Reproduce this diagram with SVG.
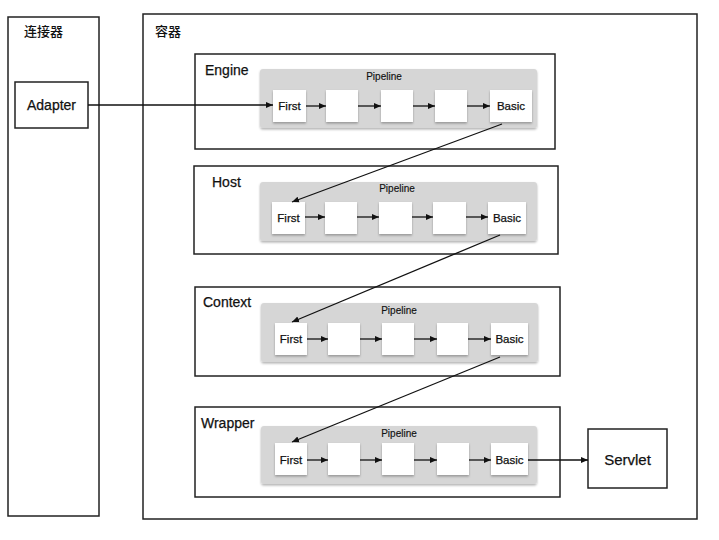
<svg xmlns="http://www.w3.org/2000/svg" width="719" height="540" viewBox="0 0 719 540">
<style>
.frame{fill:#fff;stroke:#222;stroke-width:1.5}
.pipe{fill:#d6d6d6;stroke:none}
.valve{fill:#fff;stroke:none}
.lbl{font-family:"Liberation Sans",Arial,sans-serif;fill:#111;stroke:#111;stroke-width:0.25}
.big{font-size:14px}
.sm{font-size:11.5px}
.tiny{font-size:10px;stroke-width:0.15}
.cjk{font-family:"Noto Sans CJK SC","Liberation Sans",sans-serif;font-size:13px;font-weight:500;fill:#111}
.conn{stroke:#111;stroke-width:1.3;fill:none;marker-end:url(#ah)}
</style>
<defs>
<marker id="ah" markerWidth="8" markerHeight="8" refX="7" refY="4" orient="auto" markerUnits="userSpaceOnUse">
<path d="M0,1 L7,4 L0,7 Z" fill="#111"/>
</marker>
<filter id="sh" x="-10%" y="-10%" width="120%" height="130%">
<feDropShadow dx="0" dy="1.5" stdDeviation="1.2" flood-color="#000" flood-opacity="0.3"/>
</filter>
</defs>
<rect width="719" height="540" fill="#fff"/>
<g id="connector">
<rect class="frame" x="8" y="17" width="91" height="499"/>
<text class="cjk" x="24" y="36">连接器</text>
</g>
<g id="adapter">
<rect class="frame" x="15" y="82" width="73" height="46"/>
<text class="lbl big" x="51.5" y="110" text-anchor="middle">Adapter</text>
</g>
<g id="container">
<rect class="frame" x="143" y="14" width="554" height="505"/>
<text class="cjk" x="155" y="36">容器</text>
</g>
<g id="engine">
<rect class="frame" x="195" y="54" width="360" height="95"/>
<text class="lbl big" x="205" y="75">Engine</text>
<rect class="pipe" x="260" y="69" width="277" height="59" rx="3" filter="url(#sh)"/>
<text class="lbl tiny" x="384" y="80" text-anchor="middle">Pipeline</text>
<rect class="valve" x="273" y="90" width="33" height="32" filter="url(#sh)"/>
<rect class="valve" x="326" y="90" width="32" height="32" filter="url(#sh)"/>
<rect class="valve" x="381" y="90" width="32" height="32" filter="url(#sh)"/>
<rect class="valve" x="435" y="90" width="32" height="32" filter="url(#sh)"/>
<rect class="valve" x="490" y="90" width="42" height="32" filter="url(#sh)"/>
<text class="lbl sm" x="289.5" y="110" text-anchor="middle">First</text>
<text class="lbl sm" x="511" y="110" text-anchor="middle">Basic</text>
</g>
<g id="host">
<rect class="frame" x="194" y="166" width="364" height="88"/>
<text class="lbl big" x="212" y="187">Host</text>
<rect class="pipe" x="260" y="182" width="277" height="59" rx="3" filter="url(#sh)"/>
<text class="lbl tiny" x="397" y="192" text-anchor="middle">Pipeline</text>
<rect class="valve" x="272" y="202" width="33" height="32" filter="url(#sh)"/>
<rect class="valve" x="325" y="202" width="32" height="32" filter="url(#sh)"/>
<rect class="valve" x="379" y="202" width="33" height="32" filter="url(#sh)"/>
<rect class="valve" x="433" y="202" width="33" height="32" filter="url(#sh)"/>
<rect class="valve" x="488" y="202" width="38" height="32" filter="url(#sh)"/>
<text class="lbl sm" x="288.5" y="222" text-anchor="middle">First</text>
<text class="lbl sm" x="507" y="222" text-anchor="middle">Basic</text>
</g>
<g id="context">
<rect class="frame" x="195" y="287" width="365" height="89"/>
<text class="lbl big" x="203" y="307">Context</text>
<rect class="pipe" x="261" y="303" width="277" height="59" rx="3" filter="url(#sh)"/>
<text class="lbl tiny" x="399" y="314" text-anchor="middle">Pipeline</text>
<rect class="valve" x="275" y="323" width="32" height="32" filter="url(#sh)"/>
<rect class="valve" x="328" y="323" width="32" height="32" filter="url(#sh)"/>
<rect class="valve" x="382" y="323" width="32" height="32" filter="url(#sh)"/>
<rect class="valve" x="437" y="323" width="31" height="32" filter="url(#sh)"/>
<rect class="valve" x="491" y="323" width="37" height="32" filter="url(#sh)"/>
<text class="lbl sm" x="291" y="343" text-anchor="middle">First</text>
<text class="lbl sm" x="509.5" y="343" text-anchor="middle">Basic</text>
</g>
<g id="wrapper">
<rect class="frame" x="195" y="407" width="365" height="90"/>
<text class="lbl big" x="201" y="428">Wrapper</text>
<rect class="pipe" x="261" y="426" width="276" height="58" rx="3" filter="url(#sh)"/>
<text class="lbl tiny" x="399" y="437" text-anchor="middle">Pipeline</text>
<rect class="valve" x="275" y="443" width="32" height="32" filter="url(#sh)"/>
<rect class="valve" x="328" y="443" width="32" height="32" filter="url(#sh)"/>
<rect class="valve" x="382" y="443" width="32" height="32" filter="url(#sh)"/>
<rect class="valve" x="437" y="443" width="32" height="32" filter="url(#sh)"/>
<rect class="valve" x="491" y="443" width="37" height="32" filter="url(#sh)"/>
<text class="lbl sm" x="291" y="464" text-anchor="middle">First</text>
<text class="lbl sm" x="509.5" y="464" text-anchor="middle">Basic</text>
</g>
<g id="servlet">
<rect class="frame" x="588" y="429" width="79" height="59"/>
<text class="lbl" font-size="15" x="627.5" y="465" text-anchor="middle">Servlet</text>
</g>
<g id="connectors">
<line class="conn" x1="88" y1="105" x2="273" y2="105"/>
<line class="conn" x1="306" y1="106" x2="326" y2="106"/>
<line class="conn" x1="358" y1="106" x2="381" y2="106"/>
<line class="conn" x1="413" y1="106" x2="435" y2="106"/>
<line class="conn" x1="467" y1="106" x2="490" y2="106"/>
<line class="conn" x1="502" y1="124" x2="292" y2="202"/>
<line class="conn" x1="305" y1="217" x2="325" y2="217"/>
<line class="conn" x1="357" y1="217" x2="379" y2="217"/>
<line class="conn" x1="412" y1="217" x2="433" y2="217"/>
<line class="conn" x1="466" y1="217" x2="488" y2="217"/>
<line class="conn" x1="500" y1="235" x2="292" y2="322"/>
<line class="conn" x1="307" y1="339" x2="328" y2="339"/>
<line class="conn" x1="360" y1="339" x2="382" y2="339"/>
<line class="conn" x1="414" y1="339" x2="437" y2="339"/>
<line class="conn" x1="468" y1="339" x2="491" y2="339"/>
<line class="conn" x1="500" y1="357" x2="292" y2="442"/>
<line class="conn" x1="307" y1="460" x2="328" y2="460"/>
<line class="conn" x1="360" y1="460" x2="382" y2="460"/>
<line class="conn" x1="414" y1="460" x2="437" y2="460"/>
<line class="conn" x1="469" y1="460" x2="491" y2="460"/>
<line class="conn" x1="528" y1="460" x2="588" y2="460"/>
</g>
</svg>
